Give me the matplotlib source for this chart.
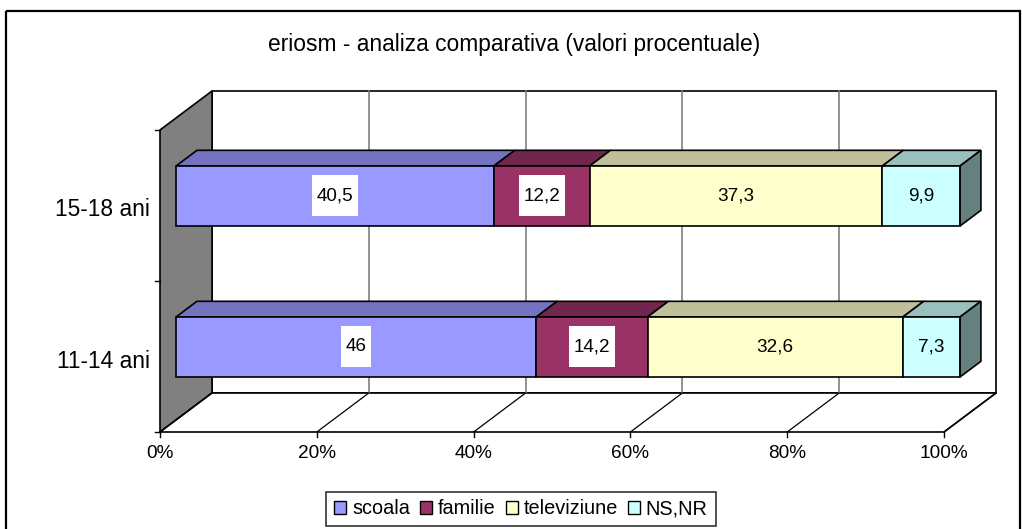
import matplotlib
matplotlib.use("Agg")
import matplotlib.pyplot as plt
from matplotlib.patches import Polygon, Rectangle, Patch

plt.rcParams["font.family"] = ["Liberation Sans", "DejaVu Sans"]

# ── Data ───────────────────────────────────────────────────────────────────────
TITLE      = "eriosm - analiza comparativa (valori procentuale)"
categories = ["15-18 ani", "11-14 ani"]          # top to bottom
series     = ["scoala", "familie", "televiziune", "NS,NR"]
scoala      = [40.5, 46.0]
familie     = [12.2, 14.2]
televiziune = [37.3, 32.6]
ns_nr       = [9.9, 7.3]
x_ticks     = [0, 20, 40, 60, 80, 100]
x_ticklabels = ["0%", "20%", "40%", "60%", "80%", "100%"]

colors     = ["#9999FF", "#993366", "#FFFFCC", "#CCFFFF"]
label_box  = [True, True, False, False]

# ── Pseudo-3D geometry (pixels) ────────────────────────────────────────────────
X0, X1     = 160, 944        # front plane 0% / 100%
Y_TOP, Y_BOT = 130, 432      # front plane category axis
DX, DY     = 52, -39         # full depth offset
D_FRONT, D_BACK = 0.31, 0.71 # bar depth span
BAR_HALF   = 30


def px(v, h, d=0.0):
    """percentage v, front-plane height h, depth d -> screen point"""
    return (X0 + v / 100.0 * (X1 - X0) + DX * d, h + DY * d)


def shade(c, f):
    r, g, b = matplotlib.colors.to_rgb(c)
    return (r * f, g * f, b * f)


fig = plt.figure(figsize=(10.22, 5.29), dpi=100)
ax = fig.add_axes([0, 0, 1, 1])
ax.set_xlim(0, 1022)
ax.set_ylim(529, 0)
ax.axis("off")

# outer chart border
ax.add_patch(Rectangle((6, 11), 1014, 530, fill=False, edgecolor="black", lw=1.6))

ax.text(514, 45, TITLE, ha="center", va="center", fontsize=16.4)

# back wall
bw = [px(0, Y_TOP, 1), px(100, Y_TOP, 1), px(100, Y_BOT, 1), px(0, Y_BOT, 1)]
ax.add_patch(Polygon(bw, closed=True, facecolor="white", edgecolor="black", lw=1.2))
for v in x_ticks[1:-1]:
    (xa, ya), (xb, yb) = px(v, Y_TOP, 1), px(v, Y_BOT, 1)
    ax.plot([xa, xb], [ya, yb], color="#808080", lw=1.2)

# left wall
lw_poly = [px(0, Y_TOP, 0), px(0, Y_TOP, 1), px(0, Y_BOT, 1), px(0, Y_BOT, 0)]
ax.add_patch(Polygon(lw_poly, closed=True, facecolor="#808080", edgecolor="black", lw=1.2))

# floor
fl = [px(0, Y_BOT, 0), px(100, Y_BOT, 0), px(100, Y_BOT, 1), px(0, Y_BOT, 1)]
ax.add_patch(Polygon(fl, closed=True, facecolor="white", edgecolor="black", lw=1.2))
for v in x_ticks:
    (xa, ya), (xb, yb) = px(v, Y_BOT, 0), px(v, Y_BOT, 1)
    ax.plot([xa, xb], [ya, yb], color="black", lw=0.9)
    ax.plot([xa, xa], [ya, ya + 5], color="black", lw=1)

for v, lab in zip(x_ticks, x_ticklabels):
    x, y = px(v, Y_BOT)
    ax.text(x, y + 21, lab, ha="center", va="center", fontsize=13.7)

# category axis ticks / labels
n = len(categories)
band = (Y_BOT - Y_TOP) / n
for k in range(n + 1):
    y = Y_TOP + k * band
    ax.plot([X0 - 5, X0], [y, y], color="black", lw=1)

fig.canvas.draw()
renderer = fig.canvas.get_renderer()
inv = ax.transData.inverted()

data = [scoala, familie, televiziune, ns_nr]
for i, cat in enumerate(categories):
    hc = Y_TOP + (i + 0.5) * band + 2.5
    ax.text(X0 - 10, hc + 2, cat, ha="right", va="center", fontsize=16.4)
    vals = [s[i] for s in data]
    total = sum(vals)
    pct = [v / total * 100 for v in vals]
    h0, h1 = hc - BAR_HALF, hc + BAR_HALF
    left = 0.0
    for j, p in enumerate(pct):
        right = left + p
        top = [px(left, h0, D_FRONT), px(right, h0, D_FRONT), px(right, h0, D_BACK), px(left, h0, D_BACK)]
        ax.add_patch(Polygon(top, closed=True, facecolor=shade(colors[j], 0.75),
                             edgecolor="black", lw=1.2, zorder=3))
        front = [px(left, h0, D_FRONT), px(right, h0, D_FRONT), px(right, h1, D_FRONT), px(left, h1, D_FRONT)]
        ax.add_patch(Polygon(front, closed=True, facecolor=colors[j],
                             edgecolor="black", lw=1.2, zorder=4))
        cx, cy = px((left + right) / 2, hc, D_FRONT)
        txt = f"{vals[j]:g}".replace(".", ",")
        t = ax.text(cx, cy, txt, ha="center", va="center", fontsize=13.6, zorder=6)
        if label_box[j]:
            bb = t.get_window_extent(renderer)
            (xa, _), (xb, _) = inv.transform([(bb.x0, 0), (bb.x1, 0)])
            w = abs(xb - xa) + 9
            ax.add_patch(Rectangle((cx - w / 2, cy - 20.5), w, 41, facecolor="white",
                                   edgecolor="none", zorder=5))
        left = right
    side = [px(100, h0, D_FRONT), px(100, h0, D_BACK), px(100, h1, D_BACK), px(100, h1, D_FRONT)]
    ax.add_patch(Polygon(side, closed=True, facecolor=shade(colors[-1], 0.5),
                         edgecolor="black", lw=1.2, zorder=4))

handles = [Patch(facecolor=c, edgecolor="black", lw=1) for c in colors]
leg = fig.legend(handles, series, loc="center", bbox_to_anchor=(521 / 1022, 1 - 509 / 529),
                 ncol=4, fontsize=14.3, frameon=True, fancybox=False, edgecolor="black",
                 handlelength=0.6, handleheight=0.6, handletextpad=0.3, columnspacing=0.5,
                 borderpad=0.4)
leg.get_frame().set_linewidth(1.2)

fig.savefig("out.png", dpi=100)
